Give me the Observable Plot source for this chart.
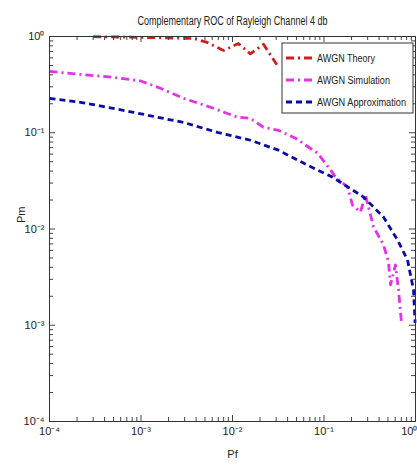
<!DOCTYPE html>
<html><head><meta charset="utf-8">
<script src="https://cdn.jsdelivr.net/npm/d3@7"></script>
<script src="https://cdn.jsdelivr.net/npm/@observablehq/plot@0.6"></script>
<style>
body{margin:0;background:#fff;}
#chart{width:417px;height:466px;}
</style></head><body><div id="chart"></div>
<script>
const FONT = '"Liberation Sans", Arial, sans-serif';

const titleText = "Complementary ROC of Rayleigh Channel 4 db";
const xLabel = "Pf";
const yLabel = "Pm";
const seriesNames = ["AWGN Theory", "AWGN Simulation", "AWGN Approximation"];
const seriesColors = ["#cc1f1f", "#e632e6", "#0a0aa8"];
const seriesDash = ["8,4,2,4", "8,4,2,4", "6,4"];
const legendTextWidths = [58, 73, 89];

const theoryPf = [3.0e-4, 7.7e-4, 1.6e-3, 3.75e-3, 5.3e-3, 8.0e-3, 0.0116, 0.0157, 0.0218, 0.0305];
const theoryPm = [0.995, 0.985, 0.97, 0.953, 0.867, 0.716, 0.846, 0.66, 0.83, 0.51];

const simPf = [1e-4, 2.18e-4, 5.0e-4, 9.9e-4, 1.63e-3, 2.91e-3, 5.75e-3, 0.01135, 0.0157, 0.0218, 0.0318, 0.0489, 0.085, 0.112, 0.134, 0.181, 0.205, 0.25, 0.284, 0.348, 0.447, 0.507, 0.533, 0.604, 0.652, 0.703];
const simPm = [0.434, 0.404, 0.376, 0.345, 0.29, 0.228, 0.184, 0.145, 0.141, 0.114, 0.106, 0.0877, 0.0613, 0.0439, 0.0346, 0.0272, 0.0177, 0.015, 0.0225, 0.0105, 0.00683, 0.00455, 0.00263, 0.00424, 0.00233, 0.00106];

const approxPf = [1e-4, 2.18e-4, 4.3e-4, 8.28e-4, 1.51e-3, 2.91e-3, 6.85e-3, 0.0157, 0.0318, 0.066, 0.124, 0.27, 0.447, 0.636, 0.818, 0.951, 0.99];
const approxPm = [0.228, 0.207, 0.184, 0.163, 0.145, 0.128, 0.101, 0.0836, 0.0659, 0.046, 0.0346, 0.0215, 0.0133, 0.00769, 0.00477, 0.00233, 0.00106];

const decades = [1e-4, 1e-3, 1e-2, 1e-1, 1];
const minorMult = [2, 3, 4, 5, 6, 7, 8, 9];
const minorTicks = decades.slice(0, 4).flatMap(d => minorMult.map(k => k * d));

const supMap = {"-": "\u207B", "0": "\u2070", "1": "\u00B9", "2": "\u00B2", "3": "\u00B3", "4": "\u2074"};
const fmt = d => "10" + String(Math.round(Math.log10(d))).split("").map(c => supMap[c]).join("");

const rows = (pf, pm, s) => pf.map((x, i) => ({pf: x, pm: pm[i], s}));
const series = [rows(theoryPf, theoryPm, 0), rows(simPf, simPm, 1), rows(approxPf, approxPm, 2)];

const plot = Plot.plot({
  width: 417, height: 466,
  marginLeft: 49, marginRight: 2, marginTop: 36, marginBottom: 45,
  style: {fontFamily: FONT, fontSize: "11px", background: "#fff", color: "#222"},
  x: {type: "log", domain: [1e-4, 1], label: null},
  y: {type: "log", domain: [1e-4, 1], label: null},
  marks: [
    ...series.map((data, i) => Plot.line(data, {x: "pf", y: "pm", stroke: seriesColors[i], strokeWidth: 2.8, strokeDasharray: seriesDash[i], strokeLinecap: "butt"})),
    Plot.tickX(minorTicks, {x: d => d, insetTop: 381, stroke: "#444"}),
    Plot.tickX(minorTicks, {x: d => d, insetBottom: 381, stroke: "#444"}),
    Plot.tickX(decades, {x: d => d, insetTop: 379, stroke: "#444"}),
    Plot.tickX(decades, {x: d => d, insetBottom: 379, stroke: "#444"}),
    Plot.tickY(minorTicks, {y: d => d, insetRight: 362, stroke: "#444"}),
    Plot.tickY(minorTicks, {y: d => d, insetLeft: 362, stroke: "#444"}),
    Plot.tickY(decades, {y: d => d, insetRight: 360, stroke: "#444"}),
    Plot.tickY(decades, {y: d => d, insetLeft: 360, stroke: "#444"}),
    Plot.frame({stroke: "#333"}),
    Plot.axisX(decades.slice(0, 4), {tickFormat: fmt, tickSize: 0, tickPadding: 6, fontSize: 11}),
    Plot.text(decades.slice(4), {x: d => d, text: fmt, frameAnchor: "bottom", textAnchor: "end", lineAnchor: "top", dy: 6, dx: 2, fontSize: 11}),
    Plot.axisY(decades, {tickFormat: fmt, tickSize: 0, tickPadding: 5, fontSize: 11}),
    Plot.text([xLabel], {frameAnchor: "bottom", dy: 36, fontSize: 11}),
    Plot.text([yLabel], {frameAnchor: "left", rotate: -90, dx: -28, dy: -6, fontSize: 11}),
    Plot.text([titleText], {frameAnchor: "top", dy: -20, fontSize: 12})
  ]
});

const svg = d3.select(plot);
svg.selectAll("text").filter(function() { return this.textContent === titleText; })
  .attr("textLength", 190).attr("lengthAdjust", "spacingAndGlyphs");

// legend box (inside plot, top right)
const lg = svg.append("g").attr("font-family", FONT).attr("font-size", 10).attr("text-anchor", "start");
lg.append("rect").attr("x", 282).attr("y", 43).attr("width", 131).attr("height", 70)
  .attr("fill", "#fff").attr("stroke", "#333").attr("stroke-width", 1);
seriesNames.forEach((name, i) => {
  const cy = 58 + i * 22;
  lg.append("line").attr("x1", 286).attr("x2", 313).attr("y1", cy).attr("y2", cy)
    .attr("stroke", seriesColors[i]).attr("stroke-width", 2.8).attr("stroke-dasharray", seriesDash[i]);
  lg.append("text").attr("x", 317).attr("y", cy).attr("dy", "0.35em").attr("fill", "#222")
    .attr("textLength", legendTextWidths[i]).attr("lengthAdjust", "spacingAndGlyphs").text(name);
});

document.getElementById("chart").appendChild(plot);
</script></body></html>
